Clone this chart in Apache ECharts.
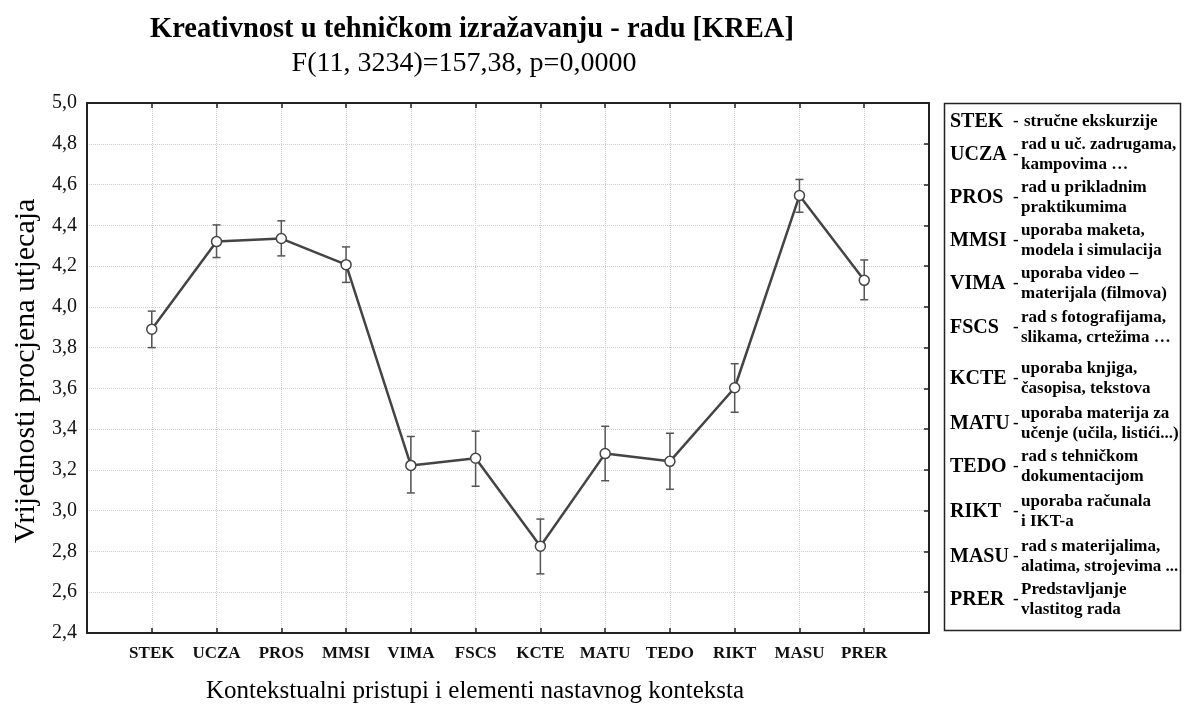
<!DOCTYPE html>
<html lang="hr">
<head>
  <meta charset="UTF-8">
  <script src="https://cdn.jsdelivr.net/npm/echarts@6/dist/echarts.min.js"></script>
  <style>
    body { margin: 0; background: #fff; }
  </style>
</head>
<body>
  <div id="main" style="width: 1184px;height:705px;"></div>
  <script type="text/javascript">
    // kratice konteksta (os x)
    let codes = ['STEK', 'UCZA', 'PROS', 'MMSI', 'VIMA', 'FSCS', 'KCTE', 'MATU', 'TEDO', 'RIKT', 'MASU', 'PRER'];
    // aritmetičke sredine i granice intervala (očitano sa slike)
    let means = [3.89, 4.32, 4.335, 4.207, 3.222, 3.257, 2.826, 3.28, 3.242, 3.603, 4.546, 4.13];
    let lower = [3.80, 4.242, 4.25, 4.12, 3.087, 3.12, 2.69, 3.147, 3.105, 3.483, 4.464, 4.035];
    let upper = [3.979, 4.402, 4.422, 4.294, 3.364, 3.39, 2.959, 3.414, 3.38, 3.721, 4.625, 4.23];
    // opisi u legendi desno
    let descriptions = [
      ['stručne ekskurzije'],
      ['rad u uč. zadrugama,', 'kampovima …'],
      ['rad u prikladnim', 'praktikumima'],
      ['uporaba maketa,', 'modela i simulacija'],
      ['uporaba video –', 'materijala (filmova)'],
      ['rad s fotografijama,', 'slikama, crtežima …'],
      ['uporaba knjiga,', 'časopisa, tekstova'],
      ['uporaba materija za', 'učenje (učila, listići...)'],
      ['rad s tehničkom', 'dokumentacijom'],
      ['uporaba računala', 'i IKT-a'],
      ['rad s materijalima,', 'alatima, strojevima ...'],
      ['Predstavljanje', 'vlastitog rada']
    ];

    let serif = '"Liberation Serif", "DejaVu Serif", serif';

    // prazno mjesto na početku i kraju osi
    let cats = [''].concat(codes, ['']);
    let meanData = [null].concat(means, [null]);
    let errData = codes.map((c, i) => [i + 1, lower[i], upper[i]]);

    // legenda s objašnjenjima kratica
    let legendY = [122, 155, 198, 241, 284, 328, 379, 424, 467, 512, 557, 600];
    let graphics = [
      { type: 'text', x: 472, y: 30, style: { text: 'Kreativnost u tehničkom izražavanju - radu [KREA]', font: 'bold 28.5px ' + serif, fill: '#000', textAlign: 'center', textVerticalAlign: 'middle' } },
      { type: 'text', x: 464, y: 64, style: { text: 'F(11, 3234)=157,38, p=0,0000', font: '28px ' + serif, fill: '#000', textAlign: 'center', textVerticalAlign: 'middle' } },
      { type: 'text', x: 475, y: 691, style: { text: 'Kontekstualni pristupi i elementi nastavnog konteksta', font: '25px ' + serif, fill: '#000', textAlign: 'center', textVerticalAlign: 'middle' } },
      { type: 'text', x: 26, y: 371, rotation: Math.PI / 2, style: { text: 'Vrijednosti procjena utjecaja', font: '30px ' + serif, fill: '#000', textAlign: 'center', textVerticalAlign: 'middle' } },
      { type: 'rect', shape: { x: 944.5, y: 103.5, width: 236, height: 527 }, style: { fill: '#fff', stroke: '#222', lineWidth: 1.5 } }
    ];
    codes.forEach((c, i) => {
      let y = legendY[i];
      graphics.push({ type: 'text', x: 950, y: y, style: { text: c, font: 'bold 20px ' + serif, fill: '#000', textVerticalAlign: 'middle' } });
      graphics.push({ type: 'text', x: 1013, y: y, style: { text: '-', font: 'bold 17px ' + serif, fill: '#000', textVerticalAlign: 'middle' } });
      let d = descriptions[i];
      if (d.length === 1) {
        graphics.push({ type: 'text', x: 1024, y: y, style: { text: d[0], font: 'bold 17px ' + serif, fill: '#000', textVerticalAlign: 'middle' } });
      } else {
        graphics.push({ type: 'text', x: 1021, y: y - 10, style: { text: d[0], font: 'bold 17px ' + serif, fill: '#000', textVerticalAlign: 'middle' } });
        graphics.push({ type: 'text', x: 1021, y: y + 10, style: { text: d[1], font: 'bold 17px ' + serif, fill: '#000', textVerticalAlign: 'middle' } });
      }
    });

    let gridLine = { show: true, lineStyle: { color: '#cfcfcf', type: 'dotted', width: 1 } };
    let axisLine = { show: true, lineStyle: { color: '#222', width: 2 } };

    var myChart = echarts.init(document.getElementById('main'));
    myChart.setOption({
      animation: false,
      backgroundColor: '#fff',
      grid: { left: 87, right: 255, top: 103, bottom: 72 },
      xAxis: [
        {
          type: 'category',
          data: cats,
          boundaryGap: false,
          position: 'bottom',
          axisLine: axisLine,
          axisTick: { show: true, inside: true, length: 5, lineStyle: { color: '#222', width: 1.5 } },
          axisLabel: { interval: 0, margin: 12, color: '#111', fontFamily: serif, fontWeight: 'bold', fontSize: 17 },
          splitLine: gridLine
        },
        {
          type: 'category',
          data: cats,
          boundaryGap: false,
          position: 'top',
          axisLine: axisLine,
          axisTick: { show: true, inside: true, length: 5, lineStyle: { color: '#222', width: 1.5 } },
          axisLabel: { show: false },
          splitLine: { show: false }
        }
      ],
      yAxis: [
        {
          type: 'value',
          min: 2.4,
          max: 5.0,
          interval: 0.2,
          position: 'left',
          axisLine: axisLine,
          axisTick: { show: false },
          axisLabel: {
            margin: 10, color: '#111', fontFamily: serif, fontSize: 20,
            formatter: v => v.toFixed(1).replace('.', ',')
          },
          splitLine: gridLine
        },
        {
          type: 'value',
          min: 2.4,
          max: 5.0,
          interval: 0.2,
          position: 'right',
          axisLine: axisLine,
          axisTick: { show: true, inside: true, length: 5, lineStyle: { color: '#222', width: 1.5 } },
          axisLabel: { show: false },
          splitLine: { show: false }
        }
      ],
      graphic: graphics,
      series: [
        {
          name: 'interval',
          type: 'custom',
          xAxisIndex: 0,
          yAxisIndex: 0,
          data: errData,
          z: 2,
          renderItem: function (params, api) {
            let x = api.value(0);
            let lo = api.coord([x, api.value(1)]);
            let hi = api.coord([x, api.value(2)]);
            let w = 4;
            let st = { stroke: '#555', lineWidth: 1.5 };
            return {
              type: 'group',
              children: [
                { type: 'line', shape: { x1: lo[0], y1: lo[1], x2: hi[0], y2: hi[1] }, style: st },
                { type: 'line', shape: { x1: lo[0] - w, y1: lo[1], x2: lo[0] + w, y2: lo[1] }, style: st },
                { type: 'line', shape: { x1: hi[0] - w, y1: hi[1], x2: hi[0] + w, y2: hi[1] }, style: st }
              ]
            };
          }
        },
        {
          name: 'KREA',
          type: 'line',
          xAxisIndex: 0,
          yAxisIndex: 0,
          data: meanData,
          z: 3,
          symbol: 'circle',
          symbolSize: 10,
          lineStyle: { color: '#444', width: 2.5 },
          itemStyle: { color: '#fff', borderColor: '#444', borderWidth: 1.5 }
        }
      ]
    });
  </script>
</body>
</html>
